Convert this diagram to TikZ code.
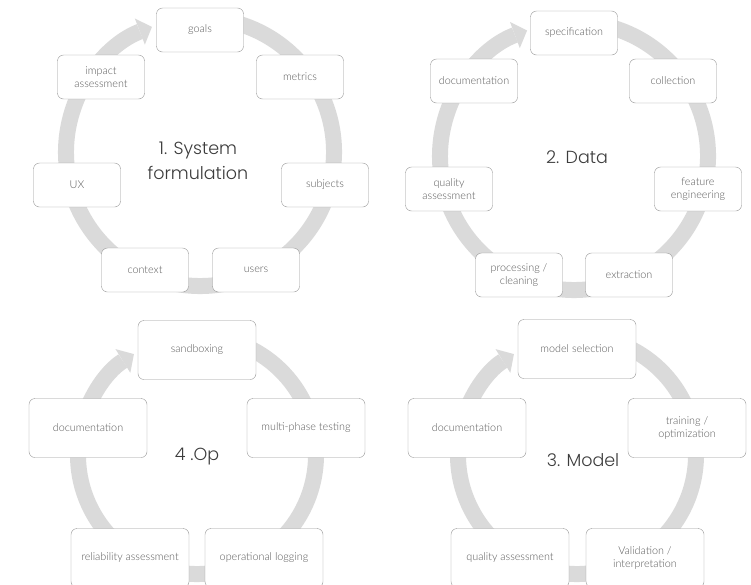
\documentclass[tikz,border=0pt]{standalone}
\usepackage{fontspec}
\setmainfont{Lato Light}
\newfontfamily\titlefont{Poppins Light}
\usetikzlibrary{arrows.meta}

\definecolor{ringgray}{RGB}{218,218,218}
\definecolor{boxline}{RGB}{150,150,150}
\definecolor{boxtext}{RGB}{90,90,90}
\definecolor{titletext}{RGB}{60,60,60}

\tikzset{
  ring/.style={draw=ringgray, line width=16pt, -{Triangle[width=28pt,length=13pt,line width=0pt]}},
  smallbox/.style={draw=boxline, fill=white, rounded corners=6pt, minimum width=87pt, minimum height=44pt,
    align=center, text=boxtext, inner sep=2pt, font=\fontsize{10.8}{13}\selectfont},
  bigbox/.style={smallbox, minimum width=118pt, minimum height=59pt},
  phasetitle/.style={align=center, text=titletext, font=\titlefont\fontsize{17.5}{25}\selectfont}
}

\begin{document}
\begin{tikzpicture}[x=1pt,y=-1pt]
    % Fix the page size
    \path[use as bounding box, clip] (0,0) rectangle (751,584);

    % Draw the rings with their arrow heads
    \draw[ring] (200,152) ++(-80:134) arc[start angle=-80, end angle=249, radius=134];
    \draw[ring] (574,156) ++(-80:134) arc[start angle=-80, end angle=249.5, radius=134];
    \draw[ring] (197,455) ++(-80:119) arc[start angle=-80, end angle=238, radius=119];
    \draw[ring] (577,455) ++(-80:119) arc[start angle=-80, end angle=238, radius=119];

    % 1. System formulation
    \node[smallbox] (goals) at (200,30) {goals};
    \node[smallbox] (metrics) at (300,77) {metrics};
    \node[smallbox] (impact) at (101,77) {impact\\assessment};
    \node[smallbox] (ux) at (77,185) {UX};
    \node[smallbox] (subjects) at (325,185) {subjects};
    \node[smallbox] (context) at (145,270) {context};
    \node[smallbox] (users) at (256,270) {users};
    \node[phasetitle] (sys) at (198,161) {1. System\\formulation};

    % 2. Data
    \node[smallbox] (spec) at (574,33) {specification};
    \node[smallbox] (collect) at (673,81) {collection};
    \node[smallbox] (datadoc) at (474,81) {documentation};
    \node[smallbox] (dataqual) at (449,189) {quality\\assessment};
    \node[smallbox] (feature) at (698,189) {feature\\engineering};
    \node[smallbox] (process) at (519,275) {processing /\\cleaning};
    \node[smallbox] (extract) at (629,275) {extraction};
    \node[phasetitle] (data) at (577,157) {2. Data};

    % 4 .Op
    \node[bigbox] (sandbox) at (197,350) {sandboxing};
    \node[bigbox] (opdoc) at (88,428) {documentation};
    \node[bigbox] (testing) at (306,428) {multi-phase testing};
    \node[bigbox] (reliab) at (130,558) {reliability assessment};
    \node[bigbox] (logging) at (264,558) {operational logging};
    \node[phasetitle] (op) at (197,457) {4 .Op};

    % 3. Model
    \node[bigbox] (select) at (577,349) {model selection};
    \node[bigbox] (modeldoc) at (467,428) {documentation};
    \node[bigbox] (train) at (687,428) {training /\\optimization};
    \node[bigbox] (modelqual) at (510,558) {quality assessment};
    \node[bigbox] (valid) at (645,558) {Validation /\\interpretation};
    \node[phasetitle] (model) at (583,460) {3. Model};
\end{tikzpicture}
\end{document}
